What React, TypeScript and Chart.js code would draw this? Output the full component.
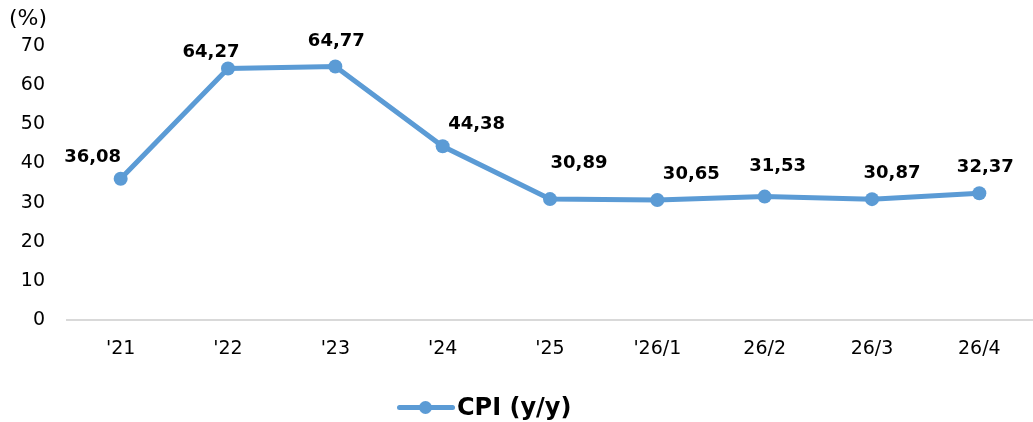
import React, { useEffect, useRef } from "react";
import { Chart, registerables } from "chart.js";

Chart.register(...registerables);

const categories = ["'21", "'22", "'23", "'24", "'25", "'26/1", "26/2", "26/3", "26/4"];
const cpiValues = [36.08, 64.27, 64.77, 44.38, 30.89, 30.65, 31.53, 30.87, 32.37];
const yTicks = [0, 10, 20, 30, 40, 50, 60, 70];
const seriesName = "CPI (y/y)";
const unitLabel = "(%)";

const LINE_COLOR = "#5B9BD5";
const FONT = "'DejaVu Sans', Verdana, sans-serif";

// label placement relative to each point (pixels)
const labelOffsets: [number, number][] = [
  [-28, -21], [-17, -16], [1, -25], [34, -22], [29, -36],
  [34, -26], [13, -30], [20, -26], [6, -26],
];

const fmt = (v: number) => v.toFixed(2).replace(".", ",");

const labelPlugin = {
  id: "pointLabels",
  afterDatasetsDraw(chart: any) {
    const meta = chart.getDatasetMeta(0);
    const ctx = chart.ctx;
    ctx.save();
    ctx.font = `bold 18px ${FONT}`;
    ctx.fillStyle = "#000";
    ctx.textAlign = "center";
    ctx.textBaseline = "middle";
    meta.data.forEach((pt: any, i: number) => {
      const [dx, dy] = labelOffsets[i] || [0, -20];
      ctx.fillText(fmt(cpiValues[i]), pt.x + dx, pt.y + dy);
    });
    ctx.restore();
  },
};

export default function App() {
  const ref = useRef<HTMLCanvasElement | null>(null);
  useEffect(() => {
    if (!ref.current) return;
    const chart = new Chart(ref.current, {
      type: "line",
      data: {
        labels: categories,
        datasets: [
          {
            label: seriesName,
            data: cpiValues,
            borderColor: LINE_COLOR,
            backgroundColor: LINE_COLOR,
            borderWidth: 5,
            pointRadius: 7,
            pointHoverRadius: 7,
            pointBackgroundColor: LINE_COLOR,
            pointBorderColor: LINE_COLOR,
            pointBorderWidth: 0,
            tension: 0,
            clip: false as any,
          },
        ],
      },
      options: {
        responsive: false,
        animation: false,
        layout: { padding: { left: 0, right: 1, top: 46, bottom: 62 } },
        plugins: {
          legend: { display: false },
          tooltip: { enabled: false },
          title: { display: false },
        },
        scales: {
          x: {
            type: "category",
            offset: true,
            grid: { display: false, drawTicks: false },
            border: { display: true, color: "#d9d9d9", width: 2 },
            ticks: {
              color: "#000",
              font: { family: FONT, size: 19 },
              padding: 18,
              maxRotation: 0,
              autoSkip: false,
            },
            afterFit(scale: any) {
              scale.height = 40;
            },
          },
          y: {
            min: 0,
            max: 70,
            grid: { display: false, drawTicks: false },
            border: { display: false },
            ticks: {
              color: "#000",
              font: { family: FONT, size: 19 },
              padding: 22,
              stepSize: 10,
              callback: (v: any) => (yTicks.includes(Number(v)) ? String(v) : ""),
            },
            afterFit(scale: any) {
              scale.width = 67;
            },
          },
        },
      },
      plugins: [labelPlugin],
    });
    return () => chart.destroy();
  }, []);

  return (
    <div
      style={{
        position: "absolute",
        left: 0,
        top: 0,
        width: 1033,
        height: 422,
        overflow: "hidden",
        background: "#fff",
        fontFamily: FONT,
      }}
    >
      <canvas ref={ref} width={1040} height={422} style={{ width: 1040, height: 422, display: "block" }} />
      <div
        style={{
          position: "absolute",
          left: 9,
          top: 5,
          fontSize: 22,
          color: "#000",
          lineHeight: "26px",
          whiteSpace: "nowrap",
        }}
      >
        {unitLabel}
      </div>
      <div style={{ position: "absolute", left: 397, top: 393, height: 28, width: 220 }}>
        <div
          style={{
            position: "absolute",
            left: 0,
            top: 12,
            width: 58,
            height: 5,
            borderRadius: 3,
            background: LINE_COLOR,
          }}
        />
        <div
          style={{
            position: "absolute",
            left: 22,
            top: 8,
            width: 13,
            height: 13,
            borderRadius: "50%",
            background: LINE_COLOR,
          }}
        />
        <div
          style={{
            position: "absolute",
            left: 60,
            top: 0,
            fontSize: 24,
            fontWeight: "bold",
            lineHeight: "28px",
            color: "#000",
            whiteSpace: "nowrap",
          }}
        >
          {seriesName}
        </div>
      </div>
    </div>
  );
}
